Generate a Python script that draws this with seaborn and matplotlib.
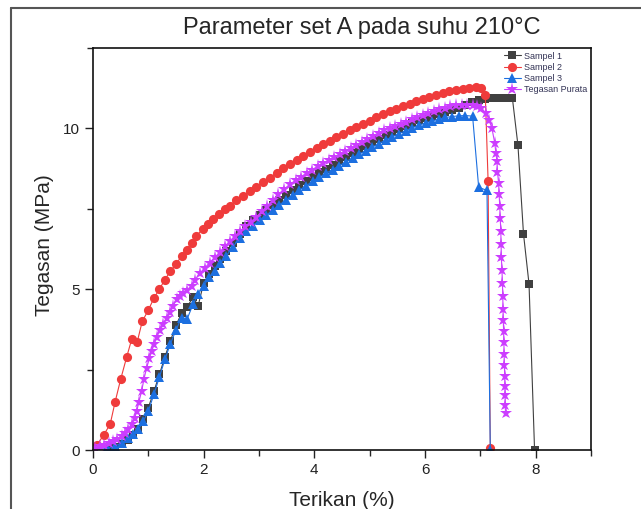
import matplotlib
matplotlib.use("Agg")
import matplotlib.pyplot as plt
from matplotlib.lines import Line2D
from matplotlib.ticker import MultipleLocator
import seaborn as sns

# Sampel 1 (grey squares)
s1_x = [0.28, 0.40, 0.52, 0.64, 0.73, 0.82, 0.91, 1.00, 1.10, 1.20,
        1.30, 1.40, 1.50, 1.60, 1.70, 1.81, 1.90, 2.00, 2.10, 2.20,
        2.30, 2.41, 2.53, 2.65, 2.77, 2.89, 3.01, 3.13, 3.25, 3.37,
        3.49, 3.61, 3.73, 3.85, 3.97, 4.09, 4.21, 4.33, 4.45, 4.57,
        4.69, 4.81, 4.93, 5.05, 5.17, 5.29, 5.41, 5.53, 5.65, 5.77,
        5.89, 6.01, 6.13, 6.25, 6.37, 6.49, 6.61, 6.73, 6.85, 6.97,
        7.09, 7.21, 7.33, 7.45, 7.58, 7.68, 7.78, 7.88, 7.98]
s1_y = [0.02, 0.08, 0.18, 0.32, 0.48, 0.66, 0.95, 1.32, 1.82, 2.35,
        2.90, 3.40, 3.88, 4.25, 4.45, 4.75, 4.48, 5.20, 5.48, 5.72,
        5.95, 6.19, 6.45, 6.73, 6.95, 7.15, 7.30, 7.46, 7.62, 7.78,
        7.94, 8.09, 8.23, 8.37, 8.50, 8.63, 8.75, 8.87, 8.99, 9.11,
        9.23, 9.35, 9.46, 9.57, 9.68, 9.79, 9.89, 9.99, 10.08, 10.17,
        10.25, 10.32, 10.39, 10.45, 10.51, 10.57, 10.64, 10.72, 10.82, 10.88,
        10.91, 10.93, 10.94, 10.95, 10.93, 9.47, 6.72, 5.16, 0.00]

# Sampel 2 (red circles)
s2_x = [0.07, 0.19, 0.31, 0.40, 0.50, 0.61, 0.70, 0.80, 0.89, 1.00,
        1.10, 1.20, 1.30, 1.40, 1.50, 1.60, 1.69, 1.78, 1.87, 1.98,
        2.08, 2.17, 2.28, 2.38, 2.47, 2.59, 2.71, 2.83, 2.95, 3.07,
        3.19, 3.32, 3.44, 3.56, 3.68, 3.80, 3.92, 4.04, 4.16, 4.28,
        4.40, 4.52, 4.64, 4.76, 4.88, 5.00, 5.12, 5.24, 5.36, 5.48,
        5.60, 5.72, 5.84, 5.96, 6.08, 6.20, 6.32, 6.44, 6.56, 6.68,
        6.80, 6.92, 7.02, 7.09, 7.14, 7.18]
s2_y = [0.15, 0.46, 0.80, 1.50, 2.20, 2.90, 3.45, 3.37, 4.00, 4.35,
        4.72, 5.00, 5.30, 5.56, 5.79, 6.02, 6.22, 6.45, 6.66, 6.87,
        7.03, 7.19, 7.34, 7.48, 7.60, 7.76, 7.91, 8.05, 8.17, 8.33,
        8.46, 8.61, 8.76, 8.90, 9.03, 9.15, 9.28, 9.40, 9.51, 9.62,
        9.73, 9.84, 9.94, 10.04, 10.14, 10.24, 10.34, 10.44, 10.53, 10.61,
        10.69, 10.77, 10.85, 10.92, 10.99, 11.05, 11.11, 11.16, 11.20, 11.24,
        11.27, 11.29, 11.27, 11.03, 8.38, 0.07]

# Sampel 3 (blue triangles)
s3_x = [0.04, 0.25, 0.40, 0.52, 0.64, 0.73, 0.82, 0.91, 1.00, 1.10,
        1.20, 1.30, 1.40, 1.50, 1.60, 1.70, 1.81, 1.90, 2.00, 2.10,
        2.20, 2.30, 2.41, 2.53, 2.65, 2.77, 2.89, 3.01, 3.13, 3.25,
        3.37, 3.49, 3.61, 3.73, 3.85, 3.97, 4.09, 4.21, 4.33, 4.45,
        4.57, 4.69, 4.81, 4.93, 5.05, 5.17, 5.29, 5.41, 5.53, 5.65,
        5.77, 5.89, 6.01, 6.13, 6.25, 6.37, 6.49, 6.61, 6.73, 6.86,
        6.97, 7.12, 7.18]
s3_y = [0.00, 0.05, 0.12, 0.23, 0.36, 0.51, 0.64, 0.90, 1.21, 1.73,
        2.27, 2.82, 3.31, 3.73, 4.12, 4.07, 4.54, 4.85, 5.11, 5.37,
        5.58, 5.80, 6.04, 6.32, 6.58, 6.80, 6.98, 7.14, 7.30, 7.46,
        7.62, 7.78, 7.93, 8.08, 8.22, 8.35, 8.48, 8.60, 8.72, 8.84,
        8.96, 9.08, 9.20, 9.31, 9.42, 9.53, 9.64, 9.74, 9.84, 9.93,
        10.02, 10.10, 10.17, 10.23, 10.29, 10.34, 10.37, 10.39, 10.40, 10.38,
        8.17, 8.07, 0.00]

# Tegasan Purata (purple stars)
avg_x = [0.04, 0.12, 0.20, 0.28, 0.36, 0.44, 0.52, 0.58, 0.64, 0.70,
         0.75, 0.79, 0.83, 0.88, 0.92, 0.97, 1.02, 1.06, 1.11, 1.15,
         1.21, 1.27, 1.33, 1.39, 1.45, 1.51, 1.57, 1.63, 1.70, 1.78,
         1.85, 1.93, 2.02, 2.11, 2.20, 2.29, 2.38, 2.47, 2.56, 2.65,
         2.75, 2.85, 2.95, 3.05, 3.15, 3.25, 3.35, 3.45, 3.56, 3.66,
         3.76, 3.86, 3.96, 4.06, 4.16, 4.26, 4.36, 4.46, 4.56, 4.66,
         4.76, 4.86, 4.96, 5.06, 5.16, 5.26, 5.36, 5.46, 5.56, 5.66,
         5.76, 5.86, 5.96, 6.06, 6.16, 6.26, 6.36, 6.46, 6.56, 6.66,
         6.76, 6.86, 6.94, 7.02, 7.10, 7.16, 7.21, 7.26, 7.28, 7.30,
         7.31, 7.33, 7.34, 7.35, 7.36, 7.37, 7.375, 7.38, 7.39, 7.40,
         7.405, 7.41, 7.415, 7.42, 7.425, 7.43, 7.435, 7.44, 7.445, 7.45,
         7.45, 7.455]
avg_y = [0.07, 0.12, 0.16, 0.21, 0.27, 0.35, 0.45, 0.54, 0.66, 0.80,
         0.98, 1.21, 1.50, 1.84, 2.20, 2.56, 2.85, 3.08, 3.30, 3.50,
         3.72, 3.92, 4.10, 4.28, 4.48, 4.69, 4.80, 4.88, 4.98, 5.11,
         5.30, 5.50, 5.66, 5.83, 5.99, 6.15, 6.33, 6.49, 6.65, 6.80,
         6.95, 7.10, 7.24, 7.42, 7.60, 7.77, 7.95, 8.11, 8.26, 8.39,
         8.50, 8.61, 8.72, 8.82, 8.92, 9.01, 9.11, 9.20, 9.30, 9.40,
         9.49, 9.58, 9.68, 9.77, 9.86, 9.94, 10.01, 10.08, 10.15, 10.21,
         10.28, 10.35, 10.42, 10.48, 10.54, 10.60, 10.64, 10.69, 10.72, 10.73,
         10.74, 10.73, 10.70, 10.63, 10.48, 10.25, 10.00, 9.55, 9.25, 9.00,
         8.65, 8.30, 7.95, 7.60, 7.20, 6.80, 6.40, 6.00, 5.60, 5.20,
         4.80, 4.40, 4.05, 3.70, 3.35, 3.00, 2.65, 2.30, 2.00, 1.70,
         1.40, 1.15]

sns.set_style("ticks")
plt.rcParams["font.family"] = ["Liberation Sans", "DejaVu Sans"]

fig = plt.figure(figsize=(6.41, 5.09), dpi=100)
ax = fig.add_axes([0.1451, 0.1159, 0.7769, 0.7898])

series = [
    (s1_x, s1_y, "Sampel 1", "#404040", "s", 5.8),
    (s2_x, s2_y, "Sampel 2", "#ef3b3b", "o", 6.6),
    (s3_x, s3_y, "Sampel 3", "#1c6fe0", "^", 7),
    (avg_x, avg_y, "Tegasan Purata", "#cc3dff", "*", 9.5),
]
for xs, ys, name, col, mk, ms in series:
    sns.lineplot(x=xs, y=ys, ax=ax, sort=False, estimator=None, color=col,
                 linewidth=0.8, marker=mk, markersize=ms,
                 markeredgewidth=0, markeredgecolor=col, label=name)

ax.set_xlim(0, 9)
ax.set_ylim(0, 12.5)
ax.xaxis.set_major_locator(MultipleLocator(2))
ax.xaxis.set_minor_locator(MultipleLocator(1))
ax.yaxis.set_major_locator(MultipleLocator(5))
ax.yaxis.set_minor_locator(MultipleLocator(2.5))
ax.tick_params(which="major", direction="out", length=6, width=1, labelsize=11,
               colors="#222222")
ax.tick_params(which="minor", direction="out", length=4, width=1)
for sp in ax.spines.values():
    sp.set_visible(True)
    sp.set_color("#111111")
    sp.set_linewidth(1.2)

ax.set_xlabel("Terikan (%)", fontsize=15)
ax.set_ylabel("Tegasan (MPa)", fontsize=15)
ax.xaxis.set_label_coords(0.5, -0.102)
ax.yaxis.set_label_coords(-0.078, 0.51)

fig.text(361.5 / 641, 1 - 28 / 509, "Parameter set A pada suhu 210°C",
         ha="center", va="center", fontsize=17)

leg = ax.legend(loc="upper right", frameon=False, fontsize=6.5,
                handlelength=1.8, handletextpad=0.4, labelspacing=0.25,
                borderaxespad=0.2, borderpad=0.2, labelcolor="#333355")

# outer frame of the original screenshot
fig.add_artist(Line2D([11 / 641, 1], [1 - 8 / 509, 1 - 8 / 509],
                      transform=fig.transFigure, color="#555555", lw=1.5))
fig.add_artist(Line2D([11 / 641, 11 / 641], [0, 1 - 8 / 509],
                      transform=fig.transFigure, color="#555555", lw=1.5))

fig.savefig("out.png", dpi=100)
